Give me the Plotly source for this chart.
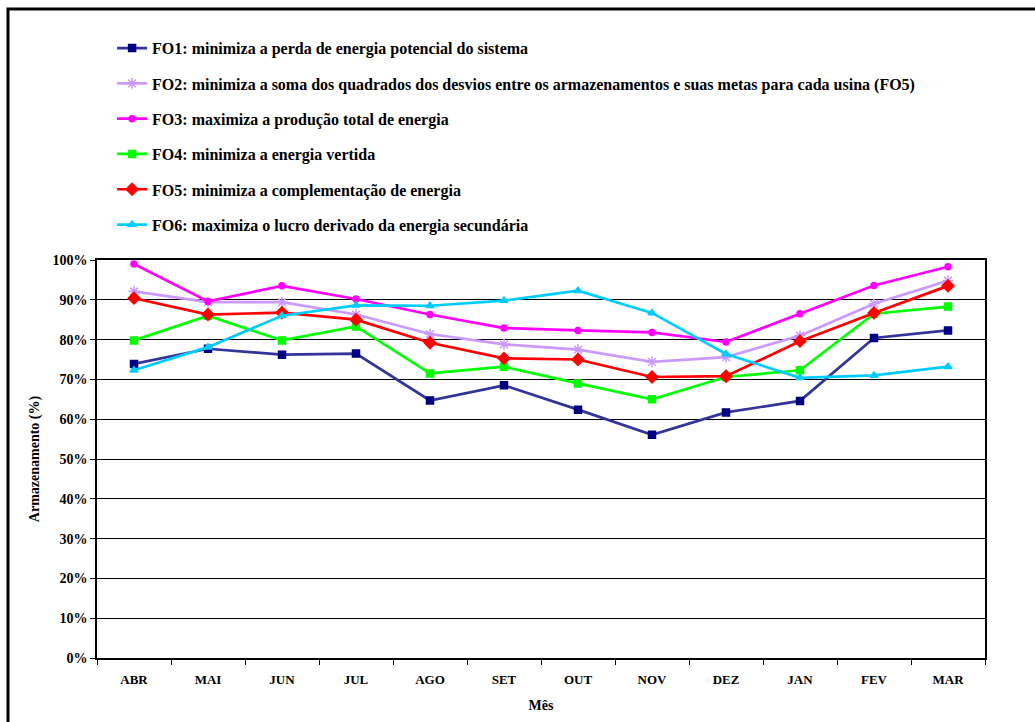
import plotly.graph_objects as go

months = ["ABR", "MAI", "JUN", "JUL", "AGO", "SET", "OUT", "NOV", "DEZ", "JAN", "FEV", "MAR"]

fo1 = [73.9, 77.7, 76.2, 76.5, 64.7, 68.5, 62.4, 56.1, 61.7, 64.6, 80.4, 82.3]
fo2 = [92.1, 89.4, 89.4, 86.3, 81.4, 78.8, 77.5, 74.4, 75.6, 81.0, 89.0, 94.8]
fo3 = [99.0, 89.6, 93.5, 90.2, 86.3, 82.9, 82.3, 81.8, 79.4, 86.5, 93.6, 98.3]
fo4 = [79.8, 86.0, 79.8, 83.3, 71.5, 73.2, 69.0, 65.0, 70.6, 72.3, 86.5, 88.3]
fo5 = [90.4, 86.3, 86.8, 85.0, 79.2, 75.3, 75.0, 70.6, 70.8, 79.6, 86.7, 93.5]
fo6 = [72.3, 78.1, 86.0, 88.6, 88.5, 89.8, 92.3, 86.7, 76.4, 70.4, 71.0, 73.2]

names = [
    "FO1: minimiza a perda de energia potencial do sistema",
    "FO2: minimiza a soma dos quadrados dos desvios entre os armazenamentos e suas metas para cada usina (FO5)",
    "FO3: maximiza a produção total de energia",
    "FO4: minimiza a energia vertida",
    "FO5: minimiza a complementação de energia",
    "FO6: maximiza o lucro derivado da energia secundária",
]

series = [fo1, fo2, fo3, fo4, fo5, fo6]
line_colors = ["#333399", "#CC99FF", "#FF00FF", "#00FF00", "#FF0000", "#00CCFF"]
marker_colors = ["#000080", "#CC99FF", "#FF00FF", "#00FF00", "#FF0000", "#00CCFF"]
symbols = ["square", "asterisk-open", "circle", "square", "diamond", "triangle-up"]
sizes = [7, 9, 6, 7, 9, 7]

family = "Times New Roman, Liberation Serif, serif"
font = dict(family=family, size=14, color="black", weight="bold")
legend_font = dict(family=family, size=16, color="black", weight="bold")
xtick_font = dict(family=family, size=13, color="black", weight="bold")

fig = go.Figure()
for i, (vals, name) in enumerate(zip(series, names)):
    fig.add_trace(go.Scatter(
        x=months, y=vals, name=name, mode="lines+markers",
        legendgroup=f"g{i}",
        line=dict(color=line_colors[i], width=2.7),
        marker=dict(color=marker_colors[i], symbol=symbols[i], size=sizes[i],
                    line=dict(color=marker_colors[i], width=1.5)),
    ))

fig.update_layout(
    width=1035, height=722,
    margin=dict(l=97, r=50, t=260, b=64),
    paper_bgcolor="white", plot_bgcolor="white",
    font=font,
    showlegend=True,
    legend=dict(x=0.017, y=1.575, xanchor="left", yanchor="top",
                font=legend_font, tracegroupgap=11.5, bgcolor="rgba(0,0,0,0)"),
    xaxis=dict(
        type="category", range=[-0.5, 11.5],
        showline=True, linecolor="black", linewidth=1.5, mirror=True,
        ticks="outside", tickson="boundaries", ticklen=5, tickcolor="black",
        showgrid=False, tickfont=xtick_font, ticklabelstandoff=9,
        title=dict(text="Mês", font=font, standoff=14),
    ),
    yaxis=dict(
        range=[0, 100], dtick=10, ticksuffix="%",
        showline=True, linecolor="black", linewidth=1.5, mirror=True,
        ticks="outside", ticklen=5, tickcolor="black",
        showgrid=True, gridcolor="black", gridwidth=1,
        tickfont=font, zeroline=False,
        title=dict(text="Armazenamento (%)", font=font, standoff=10),
    ),
    shapes=[dict(type="rect", xref="paper", yref="paper",
                 x0=(8 - 97) / 888, x1=1.2, y0=-1, y1=(658 - 9) / 398,
                 line=dict(color="black", width=3), fillcolor="rgba(0,0,0,0)")],
)

fig.write_html("out.html")
